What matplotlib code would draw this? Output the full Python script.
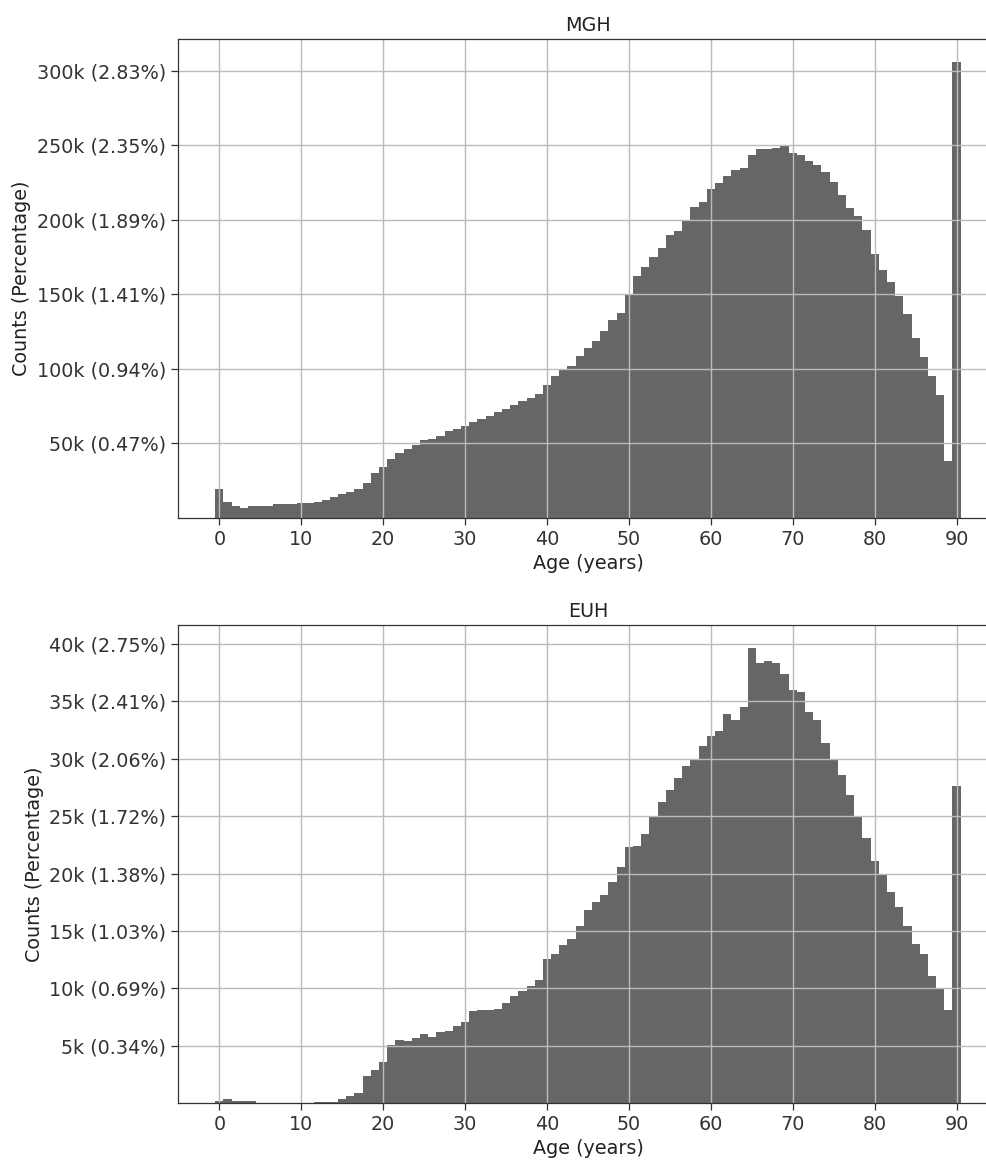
import numpy as np
import matplotlib
matplotlib.use('Agg')
import matplotlib.pyplot as plt

ages = np.arange(0, 91)

# counts per age, in thousands
mgh_counts = [
    19.8, 10.9, 8.2, 6.9, 8.0, 8.0, 8.0, 9.1, 9.1, 9.1,
    10.0, 10.0, 10.7, 12.0, 13.8, 16.0, 17.8, 19.8, 23.6, 30.4,
    34.5, 39.4, 43.6, 46.2, 49.3, 52.2, 52.9, 54.9, 58.2, 60.0,
    62.0, 64.5, 66.5, 68.5, 71.0, 73.0, 75.5, 78.8, 80.5, 83.4,
    89.5, 95.5, 99.5, 101.8, 108.9, 114.0, 119.0, 125.7, 132.7, 137.8,
    150.1, 162.2, 168.3, 175.2, 181.3, 190.0, 192.2, 199.6, 208.7, 212.0,
    220.4, 224.5, 229.6, 233.4, 234.6, 243.3, 247.1, 247.3, 248.4, 249.3,
    244.6, 243.5, 239.5, 236.8, 232.3, 225.6, 216.6, 207.7, 202.5, 192.9,
    177.2, 166.3, 158.4, 148.8, 136.7, 121.0, 108.1, 95.4, 82.6, 38.3,
    305.9,
]

euh_counts = [
    0.17, 0.33, 0.19, 0.19, 0.19, 0.0, 0.0, 0.0, 0.0, 0.0,
    0.0, 0.0, 0.15, 0.15, 0.15, 0.36, 0.65, 0.88, 2.4, 2.9,
    3.6, 5.1, 5.5, 5.4, 5.66, 6.0, 5.8, 6.2, 6.3, 6.7,
    7.1, 8.0, 8.1, 8.1, 8.2, 8.75, 9.3, 9.8, 10.25, 10.7,
    12.6, 13.0, 13.8, 14.3, 15.4, 16.8, 17.5, 18.1, 19.3, 20.6,
    22.3, 22.4, 23.4, 24.9, 26.2, 27.3, 28.3, 29.4, 29.9, 31.1,
    32.0, 32.4, 33.9, 33.4, 34.5, 39.65, 38.3, 38.5, 38.3, 37.4,
    36.0, 35.8, 34.1, 33.4, 31.4, 29.9, 28.6, 26.8, 24.9, 23.1,
    21.1, 19.9, 18.4, 17.1, 15.4, 13.9, 13.0, 11.05, 10.0, 8.1,
    27.6,
]

mgh_ticks = [50000, 100000, 150000, 200000, 250000, 300000]
mgh_labels = ['50k (0.47%)', '100k (0.94%)', '150k (1.41%)',
              '200k (1.89%)', '250k (2.35%)', '300k (2.83%)']
euh_ticks = [5000, 10000, 15000, 20000, 25000, 30000, 35000, 40000]
euh_labels = ['5k (0.34%)', '10k (0.69%)', '15k (1.03%)', '20k (1.38%)',
              '25k (1.72%)', '30k (2.06%)', '35k (2.41%)', '40k (2.75%)']
x_ticks = [0, 10, 20, 30, 40, 50, 60, 70, 80, 90]

plt.rcParams['font.size'] = 13.8
plt.rcParams['text.color'] = '#222222'
plt.rcParams['xtick.color'] = '#333333'
plt.rcParams['ytick.color'] = '#333333'
plt.rcParams['axes.labelcolor'] = '#222222'
plt.rcParams['axes.edgecolor'] = '#333333'
plt.rcParams['axes.linewidth'] = 0.9
plt.rcParams['xtick.major.width'] = 0.9
plt.rcParams['ytick.major.width'] = 0.9
plt.rcParams['xtick.major.size'] = 4.8
plt.rcParams['ytick.major.size'] = 4.8
plt.rcParams['grid.linewidth'] = 1.0
plt.rcParams['grid.color'] = '#bbbbbb'

fig = plt.figure(figsize=(9.87, 11.6), dpi=100)
# the original picture was cut at the right, so the axes run past the edge
ax1 = fig.add_axes([0.1803, 0.5534, 0.8308, 0.413])
ax2 = fig.add_axes([0.1803, 0.0489, 0.8308, 0.4123])

panels = [
    (ax1, 'MGH', mgh_counts, mgh_ticks, mgh_labels),
    (ax2, 'EUH', euh_counts, euh_ticks, euh_labels),
]

for ax, name, counts, ticks, labels in panels:
    ax.bar(ages, np.array(counts) * 1000, width=1.0, color='#666666')
    ax.set_xticks(x_ticks)
    ax.set_yticks(ticks)
    ax.set_yticklabels(labels)
    ax.grid(True)
    ax.set_title(name, fontsize=13.8)
    ax.set_xlabel('Age (years)')
    ax.set_ylabel('Counts (Percentage)')

plt.savefig('out.png', dpi=100)
